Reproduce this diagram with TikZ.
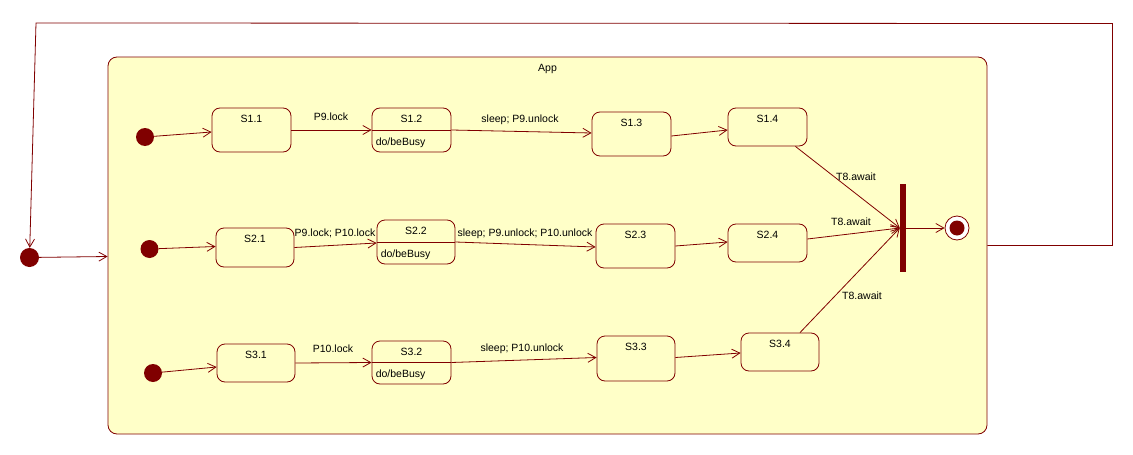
\documentclass[tikz,border=0pt]{standalone}
\usepackage{fontspec}
\setmainfont{Liberation Sans}
\usetikzlibrary{arrows.meta,calc}
\definecolor{dred}{RGB}{128,0,0}
\definecolor{yfill}{RGB}{255,255,200}
\begin{document}
\begin{tikzpicture}[x=1pt,y=-1pt,
  every node/.style={font=\fontsize{10.5}{12}\selectfont},
  state/.style={draw=dred, fill=yfill, rounded corners=8pt, line width=0.8pt, inner sep=0pt, minimum width=79pt, minimum height=44pt},
  initst/.style={circle, fill=dred, draw=none, minimum size=18pt, inner sep=0pt},
  nm/.style={anchor=base, inner sep=0pt},
  tr/.style={draw=dred, line width=0.8pt, -{Straight Barb[length=8pt,width=9pt,line width=0.8pt]}},
  lnk/.style={draw=dred, line width=0.8pt}]
\useasboundingbox (0,0) rectangle (1133,455);
% container
\node[state, rounded corners=9pt, minimum width=879pt, minimum height=377pt] (App) at (547.5,245.5) {};
\node[nm] (Appn) at ([yshift=-15pt]App.north) {App};
% initial outer
\node[initst, minimum size=19pt] (I0) at (29.5,257.5) {};
% row 1
\node[initst] (I1) at (145,137) {};
\node[state] (S11) at (251.5,130) {};
\node[state] (S12) at (411.5,130) {};
\node[state] (S13) at (631.5,134) {};
\node[state, minimum height=38pt] (S14) at (767.5,127) {};
% row 2
\node[initst] (I2) at (149.5,249) {};
\node[state, minimum width=78pt, minimum height=39pt] (S21) at (255,247.5) {};
\node[state, minimum width=78pt] (S22) at (416,242) {};
\node[state] (S23) at (635.5,246) {};
\node[state, minimum height=38pt] (S24) at (767.5,243) {};
% row 3
\node[initst] (I3) at (153,373) {};
\node[state, minimum width=78pt, minimum height=38pt] (S31) at (256,363) {};
\node[state, minimum height=43pt] (S32) at (411.5,362.5) {};
\node[state, minimum width=78pt, minimum height=45pt] (S33) at (636,358.5) {};
\node[state, minimum width=78pt, minimum height=38pt] (S34) at (780,352) {};
% dividers
\foreach \s in {S12,S22,S32} {\draw[lnk] (\s.west) -- (\s.east);}
% names
\foreach \s/\t in {S11/S1.1,S12/S1.2,S13/S1.3,S14/S1.4,S21/S2.1,S22/S2.2,S23/S2.3,S24/S2.4,S31/S3.1,S32/S3.2,S33/S3.3,S34/S3.4}
  {\node[nm] (\s n) at ([yshift=-15pt]\s.north) {\t};}
\foreach \s in {S12,S22,S32}
  {\node[anchor=base west, inner sep=0pt] (\s d) at ([xshift=4pt,yshift=7pt]\s.south west) {do/beBusy};}
% fork bar and final
\node[fill=dred, draw=none, minimum width=6pt, minimum height=88pt, inner sep=0pt] (bar) at (903,228) {};
\node[circle, draw=dred, fill=white, line width=0.8pt, minimum size=24pt, inner sep=0pt] (F) at (957,228) {};
\node[circle, fill=dred, minimum size=15pt, inner sep=0pt] (Fi) at (F) {};
% transitions row 1
\draw[tr] (I1) -- ([yshift=-2pt]S11.west);
\draw[tr] (S11.east) -- (S12.west);
\draw[tr] (S12.east) -- ([yshift=1pt]S13.west);
\draw[tr] ([yshift=-2pt]S13.east) -- ([yshift=-3pt]S14.west);
\draw[tr] ([xshift=-12pt]S14.south east) -- (bar.west);
% row 2
\draw[tr] (I2) -- ([yshift=1pt]S21.west);
\draw[tr] ([yshift=0pt]S21.east) -- ([yshift=-1pt]S22.west);
\draw[tr] (S22.east) -- ([yshift=-1pt]S23.west);
\draw[tr] (S23.east) -- ([yshift=1pt]S24.west);
\draw[tr] ([yshift=4pt]S24.east) -- (bar.west);
% row 3
\draw[tr] (I3) -- ([yshift=-4pt]S31.west);
\draw[tr] (S31.east) -- (S32.west);
\draw[tr] (S32.east) -- ([yshift=1pt]S33.west);
\draw[tr] ([yshift=1pt]S33.east) -- ([yshift=-1pt]S34.west);
\draw[tr] ([xshift=20pt]S34.north) -- (bar.west);
% to final
\draw[tr] (bar.east) -- (F);
% outer
\draw[tr] (I0) -- ([yshift=-11pt]App.west);
\draw[tr] (App.east) -- ++(125,0) -- ++(0,-222) -- (36,23) -- (I0);
% labels
\node[nm] (L1) at (331,120) {P9.lock};
\node[nm] (L2) at (520,122) {sleep; P9.unlock};
\node[nm] (L3) at (335,236) {P9.lock; P10.lock};
\node[nm] (L4) at (525,236) {sleep; P9.unlock; P10.unlock};
\node[nm] (L5) at (333,352) {P10.lock};
\node[nm] (L6) at (522,351) {sleep; P10.unlock};
\node[nm] (L7) at (856,180) {T8.await};
\node[nm] (L8) at (851,225) {T8.await};
\node[nm] (L9) at (862,299) {T8.await};
\end{tikzpicture}
\end{document}
